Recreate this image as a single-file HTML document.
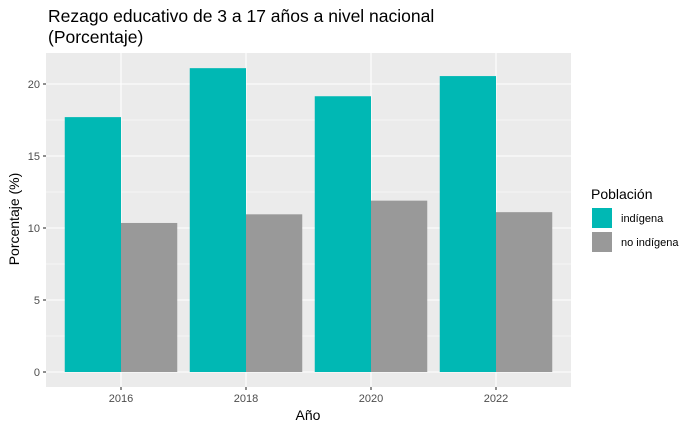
<!DOCTYPE html>
<html><head><meta charset="utf-8"><style>
body{margin:0;background:#fff;}
svg{font-family:"Liberation Sans",sans-serif;display:block;}
</style></head><body>
<svg id="chart" width="700" height="432">
<rect width="700" height="432" fill="#fff"/>
<text x="48" y="22" font-size="17.5" fill="#000">Rezago educativo de 3 a 17 años a nivel nacional</text>
<text x="48" y="43" font-size="17.5" fill="#000">(Porcentaje)</text>
<g id="panel"></g>
<text x="308" y="420" font-size="14" text-anchor="middle">Año</text>
<text transform="translate(19,219) rotate(-90)" font-size="14" text-anchor="middle">Porcentaje (%)</text>
<text x="591" y="199" font-size="14">Población</text>
<rect x="592" y="208" width="20" height="20" fill="#00B8B4"/>
<text x="621" y="222" font-size="11">indígena</text>
<rect x="592" y="232" width="20" height="20" fill="#999999"/>
<text x="621" y="246" font-size="11">no indígena</text>
</svg>
<script>
const categories=["2016","2018","2020","2022"];
const indigena=[17.7,21.1,19.15,20.55];
const noIndigena=[10.35,10.95,11.9,11.1];
const yTicks=[0,5,10,15,20];
const NS="http://www.w3.org/2000/svg";
const g=document.getElementById("panel");
const L=46,R=571,T=53,B=387;
const ymin=0,yBase=372,pxPerUnit=14.4;
const y=v=>yBase-(v-ymin)*pxPerUnit;
const step=(R-L)/(categories.length-1+1.2);
const xc=i=>L+step*0.6+i*step;
function el(tag,attrs){const e=document.createElementNS(NS,tag);for(const k in attrs)e.setAttribute(k,attrs[k]);g.appendChild(e);return e;}
let bg=el("rect",{x:L,y:T,width:R-L,height:B-T,fill:"#EBEBEB"});


for(let i=0;i<yTicks.length;i++){
  const m=yTicks[i]+2.5;
  if(y(m)>T){let ml=el("line",{x1:L,x2:R,y1:y(m),y2:y(m),stroke:"#fff","stroke-width":0.55});
  
  }
}
yTicks.forEach(t=>{
  let l=el("line",{x1:L,x2:R,y1:y(t),y2:y(t),stroke:"#fff","stroke-width":1.1});
  
  
  let tk=el("line",{x1:L-3,x2:L,y1:y(t),y2:y(t),stroke:"#333","stroke-width":1.1});
  
  
  let tx=el("text",{x:L-6,y:y(t)+4,"font-size":11,"text-anchor":"end",fill:"#4D4D4D"});
  tx.textContent=t;
  
  
});
const bw=step*0.45;
categories.forEach((c,i)=>{
  let v=el("line",{x1:xc(i),x2:xc(i),y1:T,y2:B,stroke:"#fff","stroke-width":1.1});
  
  
  let b1=el("rect",{x:xc(i)-bw,y:y(indigena[i]),width:bw,height:y(0)-y(indigena[i]),fill:"#00B8B4"});
  
  
  let b2=el("rect",{x:xc(i),y:y(noIndigena[i]),width:bw,height:y(0)-y(noIndigena[i]),fill:"#999999"});
  
  
  let tk=el("line",{x1:xc(i),x2:xc(i),y1:B,y2:B+3,stroke:"#333","stroke-width":1.1});
  
  
  let tx=el("text",{x:xc(i),y:B+15,"font-size":11,"text-anchor":"middle",fill:"#4D4D4D"});
  tx.textContent=c;
  
  
});
</script>
</body></html>
